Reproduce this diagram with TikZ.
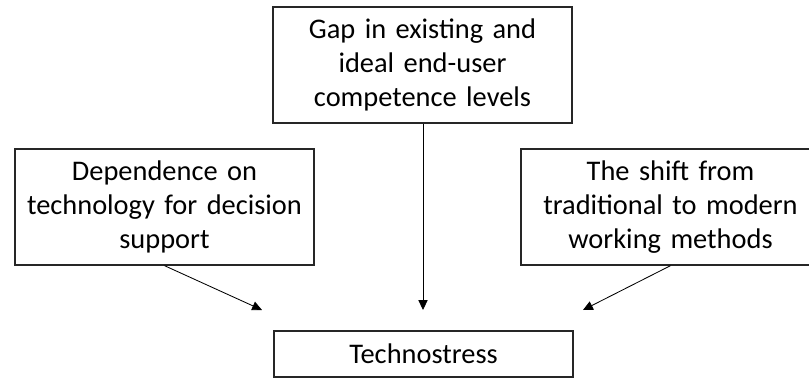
\documentclass[tikz,border=0pt]{standalone}
\usepackage{fontspec}
\setmainfont{Carlito}
\usepackage{tikz}
\usetikzlibrary{arrows.meta}

\tikzset{
  factor/.style={draw=black!85, line width=0.9pt, align=center, inner sep=0.1cm,
    text width=7.275cm, minimum height=2.9cm,
    font=\fontsize{20.2}{24.2}\selectfont},
  outcome/.style={draw=black!85, line width=0.9pt, align=center,
    minimum width=7.475cm, minimum height=1.15cm,
    font=\fontsize{20.2}{24.2}\selectfont},
  link/.style={line width=0.6pt, -{Triangle[length=7pt,width=6.5pt]}}
}

\begin{document}
\begin{tikzpicture}[x=0.025cm,y=-0.025cm]
        \useasboundingbox (0,0) rectangle (809,378);
        % Draw causes
        \node[factor] (gap) at (422.5,65) {Gap in existing and\\ideal end-user\\competence levels};
        \node[factor] (dependence) at (164.5,207) {Dependence on\\technology for decision\\support};
        \node[factor] (shift) at (670.5,207) {The shift from\\traditional to modern\\working methods};
        % Draw effect
        \node[outcome] (stress) at (423.5,354) {Technostress};

        % Arrow ends
        \coordinate (endleft) at (262,310);
        \coordinate (endmid) at (423,310);
        \coordinate (endright) at (583,310);

        \draw[link] (dependence.south) -- (endleft);
        \draw[link] (gap.south -| endmid) -- (endmid);
        \draw[link] (shift.south) -- (endright);
    \end{tikzpicture}
\end{document}
